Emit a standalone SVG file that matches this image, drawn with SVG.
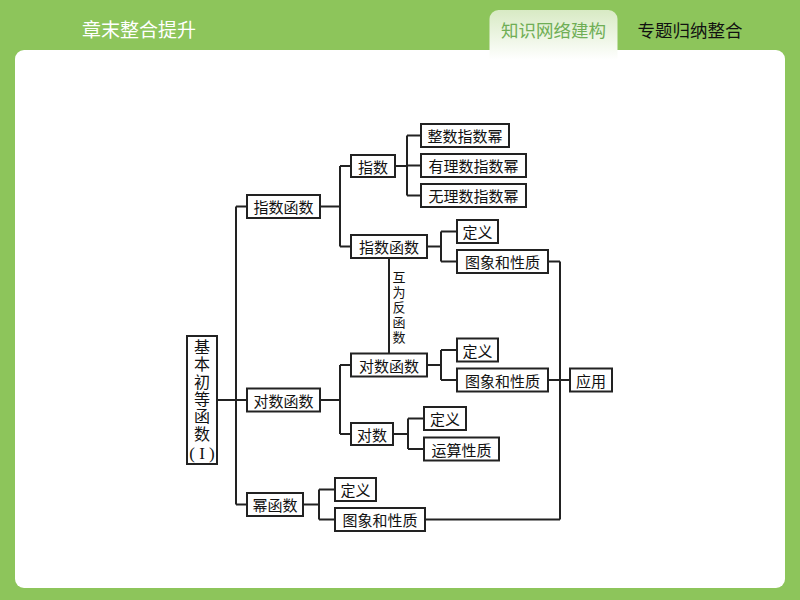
<svg xmlns="http://www.w3.org/2000/svg" width="800" height="600" viewBox="0 0 800 600">
<defs>
<linearGradient id="tabg" x1="0" y1="0" x2="0" y2="1">
<stop offset="0" stop-color="#d8eac4"/>
<stop offset="1" stop-color="#ffffff"/>
</linearGradient>
<style>
.bx{fill:#fff;stroke:#222;stroke-width:2}
.t{font-family:"Noto Sans CJK SC","Liberation Serif",serif;font-size:15px;fill:#111;text-anchor:middle;dominant-baseline:central}
.c{fill:none;stroke:#222;stroke-width:2}
.hd{font-family:"Noto Sans CJK SC",sans-serif;dominant-baseline:central}
.v{font-family:"Noto Sans CJK SC",sans-serif;fill:#111;writing-mode:vertical-rl}
.rm{font-family:"Liberation Serif",serif;font-size:17px;fill:#111;text-anchor:middle;dominant-baseline:central}
</style>
</defs>
<rect width="800" height="600" fill="#8dc55b"/>
<rect x="15" y="50" width="770" height="538" rx="9" fill="#fff"/>
<path d="M489.5,60 V19 a9,9 0 0 1 9,-9 H608.5 a9,9 0 0 1 9,9 V60 Z" fill="url(#tabg)"/>
<text class="hd" x="82" y="28" font-size="19" fill="#fff">章末整合提升</text>
<text class="hd" x="553.5" y="29" font-size="17.5" fill="#6fae55" text-anchor="middle">知识网络建构</text>
<text class="hd" x="690" y="29" font-size="17.5" fill="#111" text-anchor="middle">专题归纳整合</text>

<g id="connectors">
<path class="c" d="M217,400 H236 M236,206.5 V504.5 M236,206.5 H247 M236,400 H247 M236,504.5 H247"/>
<path class="c" d="M320,206.5 H340 M340,166 V246.5 M340,166 H351 M340,246.5 H351"/>
<path class="c" d="M395,166 H407 M407,135.5 V195.5 M407,135.5 H421 M407,165.5 H421 M407,195.5 H421"/>
<path class="c" d="M427,246.5 H441 M441,231.5 V261.5 M441,231.5 H457 M441,261.5 H457"/>
<path class="c" d="M548,261.5 H560 M560,261.5 V519.5 M548,380 H570"/>
<path class="c" d="M389,258 V353"/>
<path class="c" d="M320,400 H340 M340,365 V434 M340,365 H351 M340,434 H351"/>
<path class="c" d="M427,365 H441 M441,350 V380 M441,350 H457 M441,380 H457"/>
<path class="c" d="M393,434 H408 M408,418.5 V449 M408,418.5 H424 M408,449 H424"/>
<path class="c" d="M303,504.5 H319 M319,489.5 V519.5 M319,489.5 H335 M319,519.5 H335"/>
<path class="c" d="M425,519.5 H560"/>
<text class="v" x="399" y="271" font-size="13" letter-spacing="1.8" writing-mode="vertical-rl">互为反函数</text>
</g>

<g id="root"><rect class="bx" x="187" y="336" width="30" height="128"/>
<text class="v" x="202" y="339" font-size="16" letter-spacing="1.3" writing-mode="vertical-rl">基本初等函数</text>
<text class="rm" x="202" y="453">( I )</text></g>

<g id="zhishuhanshu1"><rect class="bx" x="247" y="195" width="73" height="23"/><text class="t" x="283.5" y="206.5">指数函数</text></g>
<g id="zhishu"><rect class="bx" x="351" y="155" width="44" height="22"/><text class="t" x="373" y="166">指数</text></g>
<g id="zhengshu"><rect class="bx" x="421" y="124" width="88" height="23"/><text class="t" x="465" y="135.5">整数指数幂</text></g>
<g id="youli"><rect class="bx" x="421" y="154" width="105" height="23"/><text class="t" x="473.5" y="165.5">有理数指数幂</text></g>
<g id="wuli"><rect class="bx" x="421" y="184" width="105" height="23"/><text class="t" x="473.5" y="195.5">无理数指数幂</text></g>
<g id="zhishuhanshu2"><rect class="bx" x="351" y="235" width="76" height="23"/><text class="t" x="389" y="246.5">指数函数</text></g>
<g id="dingyi1"><rect class="bx" x="457" y="220" width="41" height="23"/><text class="t" x="477.5" y="231.5">定义</text></g>
<g id="tuxiang1"><rect class="bx" x="457" y="250" width="91" height="23"/><text class="t" x="502.5" y="261.5">图象和性质</text></g>

<g id="duishuhanshu1"><rect class="bx" x="247" y="388.5" width="73" height="23"/><text class="t" x="283.5" y="400">对数函数</text></g>
<g id="duishuhanshu2"><rect class="bx" x="351" y="353.5" width="76" height="23"/><text class="t" x="389" y="365">对数函数</text></g>
<g id="dingyi2"><rect class="bx" x="457" y="338.5" width="41" height="23"/><text class="t" x="477.5" y="350">定义</text></g>
<g id="tuxiang2"><rect class="bx" x="457" y="368.5" width="91" height="23"/><text class="t" x="502.5" y="380">图象和性质</text></g>
<g id="yingyong"><rect class="bx" x="570" y="368.5" width="42" height="23"/><text class="t" x="591" y="380">应用</text></g>
<g id="duishu"><rect class="bx" x="351" y="423" width="42" height="22"/><text class="t" x="372" y="434">对数</text></g>
<g id="dingyi3"><rect class="bx" x="424" y="407" width="42" height="23"/><text class="t" x="445" y="418.5">定义</text></g>
<g id="yunsuan"><rect class="bx" x="424" y="437.5" width="75" height="23"/><text class="t" x="461.5" y="449">运算性质</text></g>

<g id="mihanshu"><rect class="bx" x="247" y="493" width="56" height="23"/><text class="t" x="275" y="504.5">幂函数</text></g>
<g id="dingyi4"><rect class="bx" x="335" y="478" width="41" height="23"/><text class="t" x="355.5" y="489.5">定义</text></g>
<g id="tuxiang3"><rect class="bx" x="335" y="508" width="90" height="23"/><text class="t" x="380" y="519.5">图象和性质</text></g>
</svg>
